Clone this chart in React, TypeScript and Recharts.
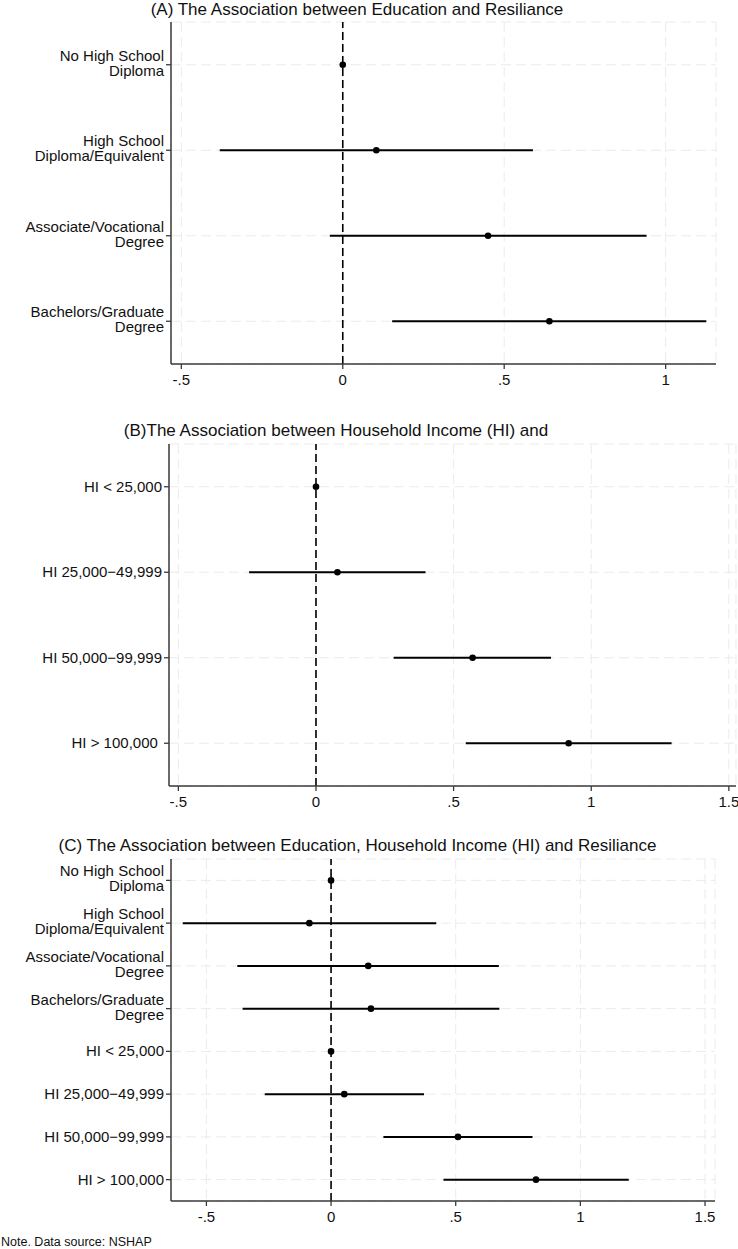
import React from 'react';
import {
  ComposedChart,
  Scatter,
  XAxis,
  YAxis,
  CartesianGrid,
  ReferenceLine,
  ErrorBar,
} from 'recharts';

const FONT = "'Liberation Sans', Arial, Helvetica, sans-serif";

// ---------- categories ----------
const eduCategories = [
  'No High School\nDiploma',
  'High School\nDiploma/Equivalent',
  'Associate/Vocational\nDegree',
  'Bachelors/Graduate\nDegree',
];
const incomeCategories = [
  'HI < 25,000',
  'HI 25,000\u221249,999',
  'HI 50,000\u221299,999',
  'HI > 100,000\u00A0',
];
const combinedCategories = [
  'No High School\nDiploma',
  'High School\nDiploma/Equivalent',
  'Associate/Vocational\nDegree',
  'Bachelors/Graduate\nDegree',
  'HI < 25,000',
  'HI 25,000\u221249,999',
  'HI 50,000\u221299,999',
  'HI > 100,000',
];

// ---------- panel A: education ----------
const estA = [0, 0.104, 0.45, 0.64];
const loA = [0, -0.381, -0.04, 0.153];
const hiA = [0, 0.589, 0.941, 1.126];

// ---------- panel B: household income ----------
const estB = [0, 0.078, 0.569, 0.918];
const loB = [0, -0.243, 0.282, 0.544];
const hiB = [0, 0.398, 0.854, 1.292];

// ---------- panel C: combined ----------
const estC = [0, -0.087, 0.149, 0.16, 0, 0.053, 0.509, 0.822];
const loC = [0, -0.595, -0.376, -0.355, 0, -0.266, 0.21, 0.451];
const hiC = [0, 0.422, 0.673, 0.675, 0, 0.373, 0.808, 1.194];

// ---------- tick values ----------
const ticksA = [-0.5, 0, 0.5, 1];
const ticksB = [-0.5, 0, 0.5, 1, 1.5];
const ticksC = [-0.5, 0, 0.5, 1, 1.5];

const titleA = '(A) The Association between Education and Resiliance';
const titleB = '(B)The Association between Household Income (HI) and';
const titleC = '(C) The Association between Education, Household Income (HI) and Resiliance';
const noteText = 'Note. Data source: NSHAP';

const buildRows = (cats: string[], est: number[], lo: number[], hi: number[]) =>
  cats.map((name, i) => ({
    name,
    est: est[i],
    err: [est[i] - lo[i], hi[i] - est[i]],
  }));

const fmt = (v: number) => {
  if (v === 0) return '0';
  const s = String(Math.abs(v)).replace(/^0/, '');
  return (v < 0 ? '-' : '') + s;
};

const AXIS_COLOR = '#3a3a3a';
const TEXT_COLOR = '#111';

const YTick = (props: any) => {
  const { x, y, payload } = props;
  const lines = String(payload.value).split('\n');
  const common = {
    textAnchor: 'end' as const,
    fontSize: 15,
    fontFamily: FONT,
    fill: TEXT_COLOR,
  };
  if (lines.length === 1) {
    return (
      <text x={x} y={y + 5} {...common} style={{ whiteSpace: 'pre' }}>
        {lines[0]}
      </text>
    );
  }
  return (
    <text x={x} y={y} {...common}>
      <tspan x={x} y={y - 4}>
        {lines[0]}
      </tspan>
      <tspan x={x} y={y + 11}>
        {lines[1]}
      </tspan>
    </text>
  );
};

const Dot = (props: any) => {
  const { cx, cy } = props;
  return <circle cx={cx} cy={cy} r={3.3} fill="#000" />;
};

type PanelProps = {
  rows: any[];
  ticks: number[];
  domain: [number, number];
  plotTop: number;
  plotBottom: number;
  plotLeft: number;
  plotRight: number;
};

function Panel({ rows, ticks, domain, plotTop, plotBottom, plotLeft, plotRight }: PanelProps) {
  const pad = 6;
  const xAxisH = 30;
  const bottomPad = 4;
  const plotH = plotBottom - plotTop;
  const height = plotH + pad + xAxisH + bottomPad;
  const halfBand = plotH / rows.length / 2;
  return (
    <div style={{ position: 'absolute', left: 0, top: plotTop - pad }}>
      <ComposedChart
        layout="vertical"
        width={738}
        height={height}
        data={rows}
        margin={{ top: pad, right: 738 - plotRight, bottom: bottomPad, left: 0 }}
      >
        <CartesianGrid stroke="#ebebeb" strokeDasharray="10 5" strokeWidth={1} />
        <XAxis
          type="number"
          dataKey="est"
          domain={domain}
          allowDataOverflow
          ticks={ticks}
          interval={0}
          tickFormatter={fmt}
          height={xAxisH}
          tickSize={5}
          tickMargin={5}
          axisLine={{ stroke: AXIS_COLOR, strokeWidth: 1.5 }}
          tickLine={{ stroke: AXIS_COLOR, strokeWidth: 1.3 }}
          tick={{ fontSize: 15, fill: TEXT_COLOR, fontFamily: FONT }}
        />
        <YAxis
          type="category"
          dataKey="name"
          width={plotLeft}
          interval={0}
          padding={{ top: halfBand, bottom: halfBand }}
          tickSize={5}
          tickMargin={2}
          axisLine={{ stroke: AXIS_COLOR, strokeWidth: 1.5 }}
          tickLine={{ stroke: AXIS_COLOR, strokeWidth: 1.3 }}
          tick={<YTick />}
        />
        <ReferenceLine x={0} stroke="#000" strokeWidth={1.6} strokeDasharray="8 4" />
        <Scatter dataKey="est" isAnimationActive={false} shape={<Dot />}>
          <ErrorBar
            dataKey="err"
            direction="x"
            width={0}
            stroke="#000"
            strokeWidth={2}
            isAnimationActive={false}
          />
        </Scatter>
      </ComposedChart>
    </div>
  );
}

export default function App() {
  const rowsA = buildRows(eduCategories, estA, loA, hiA);
  const rowsB = buildRows(incomeCategories, estB, loB, hiB);
  const rowsC = buildRows(combinedCategories, estC, loC, hiC);
  return (
    <div
      style={{
        position: 'absolute',
        left: 0,
        top: 0,
        width: 738,
        height: 1249,
        background: '#fff',
        overflow: 'hidden',
      }}
    >
      <svg
        width={738}
        height={1249}
        style={{ position: 'absolute', left: 0, top: 0 }}
        fontFamily={FONT}
      >
        <text x={357} y={15} textAnchor="middle" fontSize={17} fill={TEXT_COLOR}>
          {titleA}
        </text>
        <text x={336} y={436} textAnchor="middle" fontSize={17} fill={TEXT_COLOR}>
          {titleB}
        </text>
        <text x={357.5} y={851} textAnchor="middle" fontSize={17} fill={TEXT_COLOR}>
          {titleC}
        </text>
        <text x={1} y={1246} fontSize={12.5} fill={TEXT_COLOR}>
          {noteText}
        </text>
      </svg>
      <Panel
        rows={rowsA}
        ticks={ticksA}
        domain={[-0.532, 1.156]}
        plotTop={22}
        plotBottom={364}
        plotLeft={171}
        plotRight={716}
      />
      <Panel
        rows={rowsB}
        ticks={ticksB}
        domain={[-0.534, 1.526]}
        plotTop={444}
        plotBottom={786}
        plotLeft={169}
        plotRight={736}
      />
      <Panel
        rows={rowsC}
        ticks={ticksC}
        domain={[-0.642, 1.54]}
        plotTop={859}
        plotBottom={1201}
        plotLeft={171}
        plotRight={715}
      />
    </div>
  );
}
